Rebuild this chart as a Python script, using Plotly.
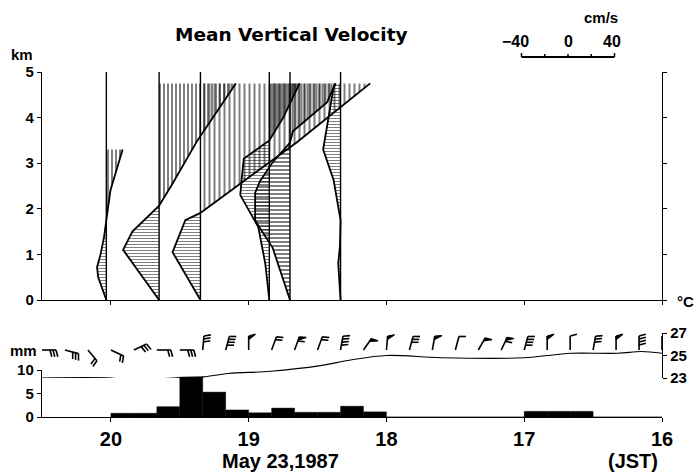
import numpy as np
import plotly.graph_objects as go

# ---------------- data ----------------
time_ticks = [20, 19, 18, 17, 16]
time_tick_text = ["20", "19", "18", "17", "16"]
km_ticks = [0, 1, 2, 3, 4, 5]
mm_ticks = [0, 5, 10]
degc_ticks = [23, 25, 27]
scale_ticks = [-40, -20, 0, 20, 40]          # cm/s
scale_labels = [-40, 0, 40]

# vertical-velocity profiles: observation time (JST, decimal h), height (km), w (cm/s)
profile_times = [20.033, 19.65, 19.35, 18.85, 18.70, 18.333]
p1_z = [0, 0.5, 0.72, 1.0, 1.38, 1.75, 2.4, 3.3]
p1_w = [0, -7, -8, -5, -2, 0, 3.5, 14]
p2_z = [0, 1.1, 1.5, 2.07, 2.57, 3.5, 4.75]
p2_w = [0, -31, -23, 0, 12, 33, 66]
p3_z = [0, 1.05, 1.75, 1.91, 3.46, 4.75]
p3_w = [0, -24, -13, 0, 83, 146]
p4_z = [0, 0.8, 1.6, 2.3, 2.6, 3.1, 3.5, 4.0, 4.75]
p4_w = [0, -3.5, -9.5, -25, -24, -22, 0, 12, 26]
p5_z = [0, 1.15, 1.5, 1.75, 2.35, 2.6, 3.0, 3.45, 3.7, 4.34, 4.75]
p5_w = [0, -15, -24, -30, -30, -26, -15.5, 0, 2.5, 32, 39]
p6_z = [0, 0.5, 0.8, 1.2, 1.75, 2.63, 3.3, 3.75, 4.1, 4.67, 4.75]
p6_w = [0, -1, -2, -0.5, 0, -6, -15, -12, -9.5, -6, -4]

# 10-minute rainfall (mm), bins going back from 20:00 to 16:00
rain_first_bin_end = 20.0
rain_mm = [0.8, 0.8, 2.2, 8.5, 5.3, 1.5, 0.9, 1.9, 1.0, 1.0, 2.3, 1.1,
           0, 0, 0, 0, 0, 0, 1.2, 1.2, 1.2, 0, 0, 0]

# surface temperature
temp_time = [20.5, 20.0, 19.85, 19.5, 19.33, 19.15, 18.84, 18.48, 18.26, 18.0,
             17.6, 17.0, 16.83, 16.66, 16.32, 16.15, 16.0]
temp_c = [23.0, 23.0, 22.8, 23.05, 23.1, 23.4, 23.6, 24.1, 24.6, 25.0,
          24.8, 24.8, 25.0, 25.2, 25.2, 25.35, 25.2]

# surface wind every 10 min from 20:30 to 16:00 (direction deg, speed m/s)
wind_start = 20.5
wind_dir = [90, 105, 140, 115, 65, 90, 90, 5, 15, 0, 20, 20, 20, 10,
            35, 5, 15, 10, 15, 30, 25, 15, 0, 0, 10, 0, 0, 0]
wind_ms = [6, 6, 4, 4, 6, 4, 6, 6, 8, 10, 4, 12, 4, 8,
           10, 10, 6, 10, 2, 10, 12, 8, 10, 2, 6, 10, 8, 8]

# ---------------- layout constants ----------------
W, H = 699, 474
X0, X1 = 42, 662
TMAX, TMIN = 20.5, 16.0
PXH = (X1 - X0) / (TMAX - TMIN)        # px per hour
VEL_H = (93.0 / 80.0) / PXH            # hours per cm/s (scale bar: 80 cm/s = 93 px)


def py(p):
    return (H - p) / H


def px(p):
    return p / W


FL = "Liberation Sans, Arial, sans-serif"
FT = "DejaVu Sans, sans-serif"

fig = go.Figure()

profiles = [(p1_z, p1_w), (p2_z, p2_w), (p3_z, p3_w),
            (p4_z, p4_w), (p5_z, p5_w), (p6_z, p6_w)]
# hatch styles (pattern size px, solidity) for updraft (|) and downdraft (-)
pos_style = [(4, 0.5), (4, 0.5), (5, 0.4), (3, 1.0), (3, 0.67), (4, 0.5)]
neg_style = [(3, 0.34), (3, 0.34), (3, 0.34), (3, 0.34), (4, 0.5), (3, 0.34)]

for i, (t0, (z, w)) in enumerate(zip(profile_times, profiles)):
    z = np.array(z, float)
    w = np.array(w, float)
    for part, shape, st in ((np.maximum(w, 0), "|", pos_style[i]),
                            (np.minimum(w, 0), "-", neg_style[i])):
        if np.any(part != 0):
            xs = list(t0 - part * VEL_H) + [t0, t0]
            ys = list(z) + [z[-1], z[0]]
            fig.add_trace(go.Scatter(
                x=xs, y=ys, mode="lines", fill="toself",
                fillcolor="rgba(0,0,0,0)", line=dict(width=0),
                fillpattern=dict(shape=shape, size=st[0], solidity=st[1],
                                 fgcolor="black", bgcolor="rgba(0,0,0,0)",
                                 fillmode="overlay"),
                hoverinfo="skip", showlegend=False, xaxis="x", yaxis="y"))
    fig.add_trace(go.Scatter(x=t0 - w * VEL_H, y=z, mode="lines",
                             line=dict(color="black", width=1.8),
                             showlegend=False, xaxis="x", yaxis="y"))
    fig.add_trace(go.Scatter(x=[t0, t0], y=[0, 5], mode="lines",
                             line=dict(color="black", width=1.4),
                             showlegend=False, xaxis="x", yaxis="y"))

# rain bars
rain_x = [rain_first_bin_end - (i + 0.5) / 6 for i in range(len(rain_mm))]
fig.add_trace(go.Bar(x=rain_x, y=rain_mm, width=1 / 6,
                     marker=dict(color="black", line=dict(width=0.4, color="black")),
                     showlegend=False, xaxis="x2", yaxis="y2"))

# temperature
fig.add_trace(go.Scatter(x=temp_time, y=temp_c, mode="lines",
                         line=dict(color="black", width=1.1, shape="spline", smoothing=1.0),
                         showlegend=False, xaxis="x2", yaxis="y3"))

# wind barbs
STAFF, FEATHER, SPACING, PEN_BASE, STATION_Y = 14.0, 7.0, 3.0, 3.5, -2.0
bx, by, fx, fy = [], [], [], []
for k, (d, s) in enumerate(zip(wind_dir, wind_ms)):
    t = wind_start - k / 6
    a = np.deg2rad(d)
    u = np.array([np.sin(a), np.cos(a)])
    p = np.array([u[1], -u[0]])
    tilt = np.deg2rad(15)
    f = p * np.cos(tilt) + u * np.sin(tilt)
    st = np.array([0.0, STATION_Y])
    e = st + u * STAFF
    segs = [[st, e]]
    polys = []
    n_pen = int(s // 10)
    rem = s - 10 * n_pen
    n_full = int(rem // 2)
    n_half = int(round(rem - 2 * n_full))
    dd = 0.0
    for _ in range(n_pen):
        b = e - u * dd
        polys.append([b, b + f * FEATHER, b - u * PEN_BASE])
        dd += PEN_BASE + 1
    for _ in range(n_full):
        b = e - u * dd
        segs.append([b, b + f * FEATHER])
        dd += SPACING
    for _ in range(n_half):
        b = e - u * dd
        segs.append([b, b + f * FEATHER * 0.55])
    for sg in segs:
        for q in sg:
            bx.append(t - q[0] / PXH)
            by.append(q[1])
        bx.append(None)
        by.append(None)
    for pg in polys:
        for q in pg + [pg[0]]:
            fx.append(t - q[0] / PXH)
            fy.append(q[1])
        fx.append(None)
        fy.append(None)

fig.add_trace(go.Scatter(x=bx, y=by, mode="lines", line=dict(color="black", width=1.6),
                         showlegend=False, xaxis="x2", yaxis="y4"))
if fx:
    fig.add_trace(go.Scatter(x=fx, y=fy, mode="lines", fill="toself", fillcolor="black",
                             line=dict(color="black", width=1.2),
                             showlegend=False, xaxis="x2", yaxis="y4"))

axis_common = dict(showline=True, linecolor="black", linewidth=1.4, ticks="outside",
                   ticklen=4, tickwidth=1.2, tickcolor="black", showgrid=False,
                   zeroline=False, automargin=False)

fig.update_layout(
    template="none",
    width=W, height=H, margin=dict(l=0, r=0, t=0, b=0, pad=0, autoexpand=False),
    autosize=False,
    paper_bgcolor="white", plot_bgcolor="rgba(0,0,0,0)",
    showlegend=False,
    xaxis=dict(domain=[px(X0), px(X1)], range=[TMAX, TMIN], anchor="y",
               tickvals=time_ticks, showticklabels=False, **axis_common),
    yaxis=dict(domain=[py(300), py(72)], range=[0, 5], anchor="x", mirror="ticks",
               tickvals=km_ticks, tickfont=dict(family=FL, size=15, color="black", weight="bold"),
               **axis_common),
    xaxis2=dict(domain=[px(X0), px(X1)], range=[TMAX, TMIN], anchor="y2",
                tickvals=time_ticks, ticktext=time_tick_text,
                tickfont=dict(family=FL, size=20, color="black", weight="bold"),
                **axis_common),
    yaxis2=dict(domain=[py(417), py(370)], range=[0, 10], anchor="x2",
                tickvals=mm_ticks, tickfont=dict(family=FL, size=15, color="black", weight="bold"),
                **axis_common),
    yaxis3=dict(domain=[py(378), py(333)], range=[23, 27], anchor="x2", side="right",
                tickvals=degc_ticks, tickfont=dict(family=FL, size=15, color="black", weight="bold"),
                **axis_common),
    yaxis4=dict(domain=[py(370), py(326)], range=[-22, 22], anchor="x2", visible=False,
                fixedrange=True),
)

# velocity scale bar
tc = TMAX - (568 - X0) / PXH
sb_y = py(57)
fig.add_shape(type="line", xref="x", yref="paper",
              x0=tc - scale_ticks[0] * VEL_H, x1=tc - scale_ticks[-1] * VEL_H,
              y0=sb_y, y1=sb_y, line=dict(color="black", width=2))
for v in scale_ticks:
    hgt = 4 if v in (scale_ticks[0], scale_ticks[-1]) else 3
    fig.add_shape(type="line", xref="x", yref="paper",
                  x0=tc - v * VEL_H, x1=tc - v * VEL_H,
                  y0=sb_y, y1=sb_y + hgt / H, line=dict(color="black", width=1.5))

ann = []


def add_text(text, x, y, size, family=FL, xref="paper", xanchor="center", xshift=0):
    ann.append(dict(text=text, x=x, y=y, xref=xref, yref="paper", showarrow=False,
                    xanchor=xanchor, yanchor="middle", xshift=xshift,
                    font=dict(family=family, size=size, color="black", weight="bold")))


add_text("Mean Vertical Velocity", px(291), py(35), 18.5, family=FT)
add_text("km", px(22), py(54), 15)
add_text("mm", px(23), py(350), 15)
add_text("cm/s", px(601), py(17), 15)
for v in scale_labels:
    add_text(("\u2212" if v < 0 else "") + str(abs(v)), tc - v * VEL_H, py(41), 16,
             xref="x", xshift=(-6 if v < 0 else (-3 if v > 0 else 0)))
add_text("May 23,1987", px(280), py(461), 20)
add_text("(JST)", px(633), py(461), 20)
add_text("\u00b0C", px(685), py(301), 15)

fig.update_layout(annotations=ann)
fig.write_html("out.html")
